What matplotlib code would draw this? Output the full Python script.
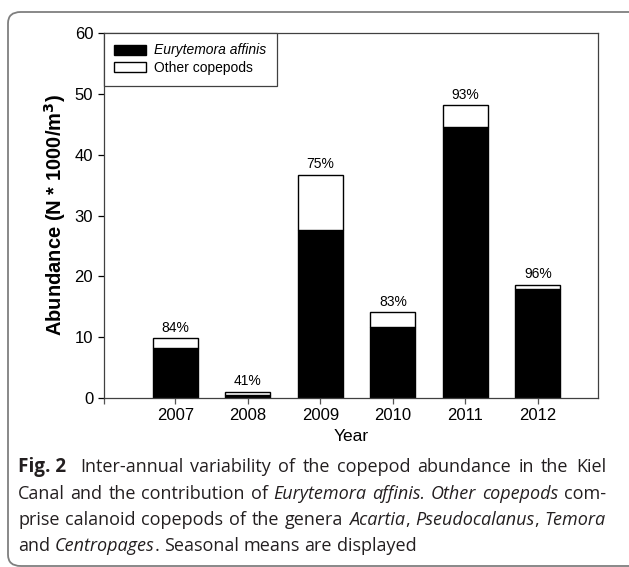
import numpy as np
import matplotlib.pyplot as plt
from matplotlib.patches import FancyBboxPatch, Patch

plt.rcParams['font.family'] = 'Liberation Sans'

# data (abundance, N * 1000 / m^3)
years = ['2007', '2008', '2009', '2010', '2011', '2012']
eurytemora = [8.2, 0.45, 27.6, 11.7, 44.6, 17.9]
total = [9.8, 1.05, 36.7, 14.1, 48.1, 18.6]
share_labels = ['84%', '41%', '75%', '83%', '93%', '96%']

others = [t - e for t, e in zip(total, eurytemora)]

W, H = 629, 567
fig = plt.figure(figsize=(W / 100, H / 100), dpi=100)

# rounded frame around figure + caption
frame = FancyBboxPatch((8 / W, 1 - 566 / H), 700 / W, (566 - 12) / H,
                       boxstyle='round,pad=0,rounding_size=0.02',
                       transform=fig.transFigure, facecolor='none',
                       edgecolor='#7f7f7f', linewidth=1.3, zorder=0)
fig.patches.append(frame)

ax = fig.add_axes([104 / W, 1 - 398 / H, (598 - 104) / W, (398 - 33) / H])
x = np.arange(len(years))
bw = 0.62
ax.bar(x, eurytemora, bw, color='black', edgecolor='black', linewidth=1.0,
       label='Eurytemora affinis')
ax.bar(x, others, bw, bottom=eurytemora, color='white', edgecolor='black',
       linewidth=1.0, label='Other copepods')

for xi, t, s in zip(x, total, share_labels):
    ax.annotate(s, (xi, t), xytext=(0, 2.5), textcoords='offset points',
                ha='center', va='bottom', fontsize=10)

ax.set_xlim(-0.986, 5.83)
ax.set_ylim(0, 60)
ax.set_xticks(x)
ax.set_xticklabels(years, fontsize=12)
ax.set_xticks([-0.986], minor=True)
ax.set_yticks(np.arange(0, 61, 10))
ax.tick_params(axis='y', labelsize=12, direction='out', length=4.3, width=0.9, pad=3.5)
ax.tick_params(axis='x', which='both', direction='out', length=4.3, width=0.9, pad=3,
               color='#555555')
for sp in ax.spines.values():
    sp.set_color('#404040')
    sp.set_linewidth(0.9)

ax.set_xlabel('Year', fontsize=12.5, labelpad=4)
ax.set_ylabel('Abundance (N * 1000/m$\\mathbf{^3}$)', fontsize=14.5, fontweight='bold',
              labelpad=5)

handles = [Patch(facecolor='black', edgecolor='black'),
           Patch(facecolor='white', edgecolor='black')]
leg = ax.legend(handles, ['Eurytemora affinis', 'Other copepods'], loc='upper left',
                bbox_to_anchor=(0, 1), borderaxespad=0, fancybox=False,
                fontsize=10, handlelength=2.3, handleheight=0.72,
                handletextpad=0.58, labelspacing=0.28, borderpad=0.75,
                framealpha=1)
leg.get_frame().set_edgecolor('#404040')
leg.get_frame().set_linewidth(0.9)
leg.get_texts()[0].set_fontstyle('italic')

# caption, justified word by word
cap_font = 'Open Sans'
cap_size = 13.0
renderer = fig.canvas.get_renderer()
lines = [
    [('Fig. 2', 'bold'), ('Inter-annual variability of the copepod abundance in the Kiel', 'normal')],
    [('Canal and the contribution of', 'normal'), ('Eurytemora affinis.', 'italic'),
     ('Other copepods', 'italic'), ('com-', 'normal')],
    [('prise calanoid copepods of the genera', 'normal'), ('Acartia', 'italic'),
     (',', 'glue'), ('Pseudocalanus', 'italic'), (',', 'glue'), ('Temora', 'italic')],
    [('and', 'normal'), ('Centropages', 'italic'), ('. Seasonal means are displayed', 'glue')],
]
x0, x1 = 18, 606
ys = [467, 494, 520, 546]


def make_words(line):
    words = []
    for txt, style in line:
        if style == 'glue':
            parts = txt.split(' ')
            words[-1] = words[-1] + [(parts[0], 'normal')]
            for p in parts[1:]:
                words.append([(p, 'normal')])
        elif style == 'bold':
            words.append([(txt, style)])
        else:
            for p in txt.split(' '):
                words.append([(p, style)])
    return words


def piece_kw(style):
    kw = dict(fontsize=cap_size, family=cap_font, va='center', ha='left',
              color='#231f20')
    if style == 'bold':
        kw['fontweight'] = 'bold'
        kw['fontsize'] = cap_size + 0.6
    if style == 'italic':
        kw['fontstyle'] = 'italic'
    return kw


def measure(txt, style):
    t = fig.text(0, 0, txt, **piece_kw(style))
    w = t.get_window_extent(renderer).width
    t.remove()
    return w


def draw_piece(px, py, txt, style):
    fig.text(px / W, 1 - py / H, txt, **piece_kw(style))
    return measure(txt, style)


nat_gap = measure('a a', 'normal') - measure('aa', 'normal')

for i, (line, yy) in enumerate(zip(lines, ys)):
    words = make_words(line)
    widths = [sum(measure(txt, st) for txt, st in w) for w in words]
    extra = 1.4 * nat_gap if i == 0 else 0
    if i < len(lines) - 1:
        gap = (x1 - x0 - sum(widths) - extra) / (len(words) - 1)
        gap = max(gap, 0.5 * nat_gap)
    else:
        gap = nat_gap
    px = x0
    for j, w in enumerate(words):
        for txt, st in w:
            px += draw_piece(px, yy, txt, st)
        px += gap
        if i == 0 and j == 0:
            px += extra

fig.savefig('out.png', dpi=100)
